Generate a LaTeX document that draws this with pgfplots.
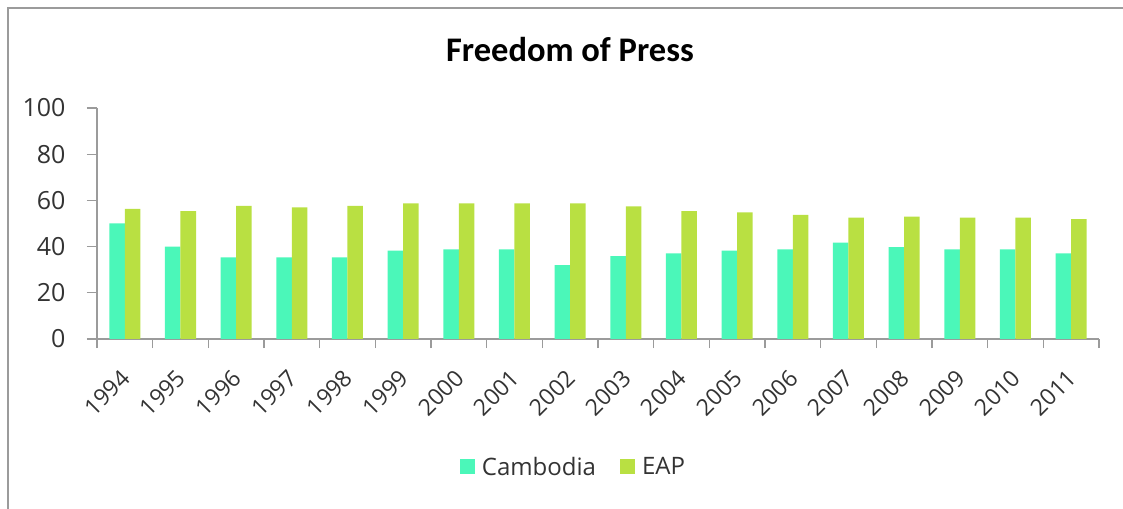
\documentclass[border=0pt]{standalone}
\usepackage{pgfplots}
\pgfplotsset{compat=1.18}
\usepackage{fontspec}
\setmainfont{Open Sans}
\newfontfamily\titlefont{Carlito}
\definecolor{camb}{RGB}{75,247,185}
\definecolor{eap}{RGB}{185,224,66}
\definecolor{axgray}{RGB}{155,155,155}
\begin{document}
\begin{tikzpicture}
\useasboundingbox (0bp,0bp) rectangle (1123bp,509bp);
\draw[axgray, line width=1.5bp] (8bp,0bp) -- (8bp,501bp) -- (1123bp,501bp);
\node[font=\titlefont\bfseries\fontsize{34.5bp}{40bp}\selectfont, anchor=base] at (570bp,447bp) {Freedom of Press};
\begin{axis}[at={(97bp,170bp)}, anchor=south west, scale only axis,
  width=1002bp, height=231bp,
  ybar, bar width=15.5bp,
  ymin=0, ymax=100, ytick={0,20,...,100},
  xmin=-0.5, xmax=17.5,
  xtick={0,...,17},
  xticklabels={1994,1995,1996,1997,1998,1999,2000,2001,2002,2003,2004,2005,2006,2007,2008,2009,2010,2011},
  minor xtick={-0.5,0.5,...,17.5},
  axis x line*=bottom, axis y line*=left,
  axis line style={axgray, line width=1.2bp, -},
  tick style={axgray, line width=1.2bp},
  major x tick style={draw=none},
  tick align=outside, major tick length=10bp, minor tick length=9bp,
  /pgf/number format/assume math mode=true,
  yticklabel style={font=\fontsize{25bp}{30bp}\selectfont, text=black!80, anchor=east, xshift=-18bp},
  xticklabel style={font=\fontsize{23bp}{27bp}\selectfont, text=black!80, inner sep=0pt,
    xshift=1bp, yshift=-25bp, rotate=45, anchor=east},
  legend style={at={(0.4755,-0.554)}, anchor=center, draw=none, legend columns=2,
    font=\fontsize{24bp}{28bp}\selectfont, text=black!80,
    /tikz/every even column/.append style={column sep=22bp}},
  legend image code/.code={\fill[#1,draw=none] (0bp,-7.5bp) rectangle (15bp,7.5bp); \path (20bp,0bp);},
]
\addplot[fill=camb, draw=none, bar shift=-7.75bp] coordinates {
(0,50) (1,40) (2,35.3) (3,35.3) (4,35.3) (5,38.3) (6,38.8) (7,38.8) (8,32) (9,35.9)
(10,37.1) (11,38.3) (12,38.8) (13,41.7) (14,39.8) (15,38.8) (16,38.8) (17,37.1)};
\addplot[fill=eap, draw=none, bar shift=7.75bp] coordinates {
(0,56.3) (1,55.4) (2,57.6) (3,57.0) (4,57.6) (5,58.7) (6,58.7) (7,58.7) (8,58.7) (9,57.4)
(10,55.4) (11,54.8) (12,53.7) (13,52.5) (14,53.0) (15,52.5) (16,52.5) (17,51.9)};
\legend{Cambodia,EAP}
\end{axis}
\end{tikzpicture}
\end{document}
